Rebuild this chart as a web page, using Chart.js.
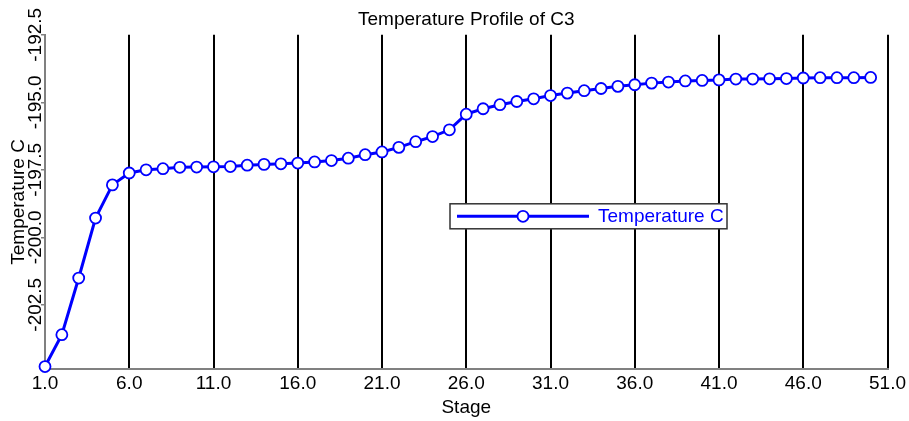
<!DOCTYPE html>
<html>
<head>
<meta charset="utf-8">
<script src="https://cdn.jsdelivr.net/npm/chart.js@4.4.1/dist/chart.umd.min.js"></script>
<style>
  html, body { margin: 0; padding: 0; background: #ffffff; }
  #wrap { width: 909px; height: 421px; }
</style>
</head>
<body>
<div id="wrap"><canvas id="c" width="909" height="421"></canvas></div>
<script>
const chartTitle = 'Temperature Profile of C3';
const seriesLabel = 'Temperature C';
const xTitle = 'Stage';
const yTitle = 'Temperature C';
const stages = [1, 2, 3, 4, 5, 6, 7, 8, 9, 10, 11, 12, 13, 14, 15, 16, 17, 18, 19, 20,
  21, 22, 23, 24, 25, 26, 27, 28, 29, 30, 31, 32, 33, 34, 35, 36, 37, 38, 39, 40,
  41, 42, 43, 44, 45, 46, 47, 48, 49, 50];
const temperature = [-204.79, -203.61, -201.51, -199.29, -198.06, -197.62, -197.50, -197.46, -197.41, -197.40,
  -197.39, -197.38, -197.33, -197.30, -197.28, -197.25, -197.21, -197.16, -197.07, -196.94,
  -196.84, -196.67, -196.46, -196.27, -196.02, -195.44, -195.24, -195.09, -194.97, -194.87,
  -194.75, -194.66, -194.57, -194.49, -194.41, -194.35, -194.29, -194.25, -194.21, -194.19,
  -194.17, -194.14, -194.14, -194.13, -194.12, -194.10, -194.09, -194.09, -194.09, -194.08];
const xTicks = [1, 6, 11, 16, 21, 26, 31, 36, 41, 46, 51];
const yTicks = [-202.5, -200.0, -197.5, -195.0, -192.5];
const yMin = -204.88;
const yMax = -192.5;

const FONT = "'Liberation Sans', Arial, sans-serif";
Chart.defaults.font.family = FONT;
Chart.defaults.font.size = 19;
Chart.defaults.color = '#000000';

const BLUE = '#0000ff';

const insideLegend = {
  id: 'insideLegend',
  afterDraw(chart) {
    const ctx = chart.ctx;
    const a = chart.chartArea;
    const ds = chart.data.datasets[0];
    const left = a.left + 405;
    const top = a.top + 169;
    const w = 277;
    const h = 25;
    ctx.save();
    ctx.fillStyle = '#ffffff';
    ctx.fillRect(left, top, w, h);
    ctx.strokeStyle = '#333333';
    ctx.lineWidth = 1.5;
    ctx.strokeRect(left, top, w, h);
    const cy = top + h / 2;
    ctx.strokeStyle = ds.borderColor;
    ctx.lineWidth = 3;
    ctx.beginPath();
    ctx.moveTo(left + 7, cy);
    ctx.lineTo(left + 139, cy);
    ctx.stroke();
    ctx.beginPath();
    ctx.arc(left + 73, cy, 5.5, 0, Math.PI * 2);
    ctx.fillStyle = '#ffffff';
    ctx.fill();
    ctx.lineWidth = 1.8;
    ctx.stroke();
    ctx.beginPath();
    ctx.rect(left, top, w, h);
    ctx.clip();
    ctx.fillStyle = ds.borderColor;
    ctx.font = '19px ' + FONT;
    ctx.textBaseline = 'middle';
    ctx.textAlign = 'left';
    ctx.fillText(ds.label, left + 148, cy + 0.5);
    ctx.restore();
  }
};

new Chart(document.getElementById('c'), {
  type: 'line',
  data: {
    datasets: [{
      label: seriesLabel,
      data: stages.map((s, i) => ({ x: s, y: temperature[i] })),
      borderColor: BLUE,
      borderWidth: 3,
      pointRadius: 5.5,
      pointHoverRadius: 5.5,
      pointBackgroundColor: '#ffffff',
      pointBorderColor: BLUE,
      pointBorderWidth: 1.8,
      tension: 0,
      clip: false
    }]
  },
  options: {
    responsive: false,
    animation: false,
    events: [],
    layout: { padding: { left: 0, right: 21.5, top: 0, bottom: 0 } },
    plugins: {
      legend: { display: false },
      tooltip: { enabled: false },
      title: {
        display: true,
        fullSize: false,
        text: chartTitle,
        color: '#000000',
        font: { size: 19, weight: 'normal', lineHeight: 1.2 },
        padding: { top: 8, bottom: 4 }
      }
    },
    scales: {
      x: {
        type: 'linear',
        min: 1,
        max: 51,
        afterBuildTicks: (axis) => { axis.ticks = xTicks.map(v => ({ value: v })); },
        afterFit: (axis) => { axis.height = 52; },
        ticks: {
          callback: (v) => Number(v).toFixed(1),
          padding: 3,
          maxRotation: 0,
          minRotation: 0,
          color: '#000000',
          font: { size: 19, lineHeight: 1.2 }
        },
        grid: {
          color: '#000000',
          lineWidth: 2,
          drawTicks: false,
          drawOnChartArea: true
        },
        border: { display: true, color: '#808080', width: 2 },
        title: {
          display: true,
          text: xTitle,
          color: '#000000',
          font: { size: 19, lineHeight: 1.2 },
          padding: { top: 0, bottom: 2 }
        }
      },
      y: {
        type: 'linear',
        min: yMin,
        max: yMax,
        afterBuildTicks: (axis) => { axis.ticks = yTicks.map(v => ({ value: v })); },
        afterFit: (axis) => { axis.width = 45; },
        ticks: {
          callback: (v) => Number(v).toFixed(1),
          minRotation: 90,
          maxRotation: 90,
          crossAlign: 'center',
          padding: -22,
          color: '#000000',
          font: { size: 19, lineHeight: 1.2 }
        },
        grid: {
          drawOnChartArea: false,
          drawTicks: true,
          tickLength: 4,
          color: '#808080',
          lineWidth: 1.5
        },
        border: { display: true, color: '#808080', width: 2 },
        title: {
          display: true,
          text: yTitle,
          color: '#000000',
          font: { size: 19, lineHeight: 1.2 },
          padding: { top: 7, bottom: 0 }
        }
      }
    }
  },
  plugins: [insideLegend]
});
</script>
</body>
</html>
